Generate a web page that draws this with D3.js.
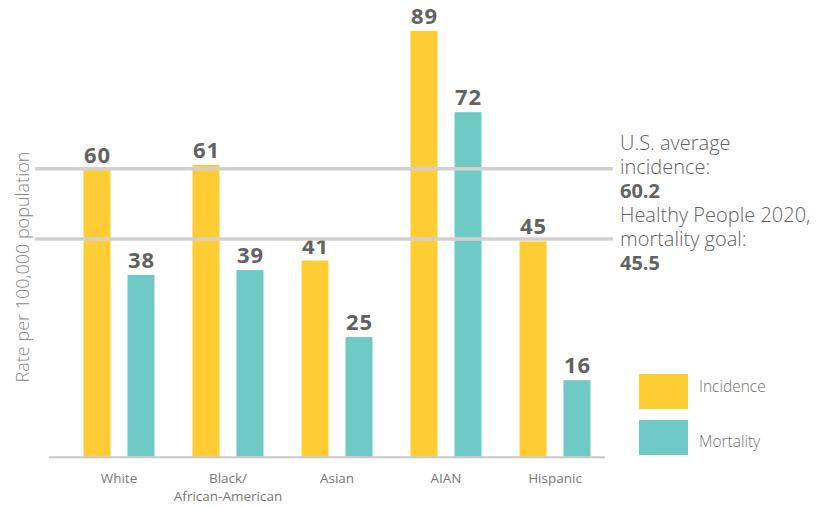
<!DOCTYPE html>
<html>
<head>
<meta charset="utf-8">
<script src="https://cdn.jsdelivr.net/npm/d3@7"></script>
<style>
  html, body { margin: 0; padding: 0; background: #fff; }
  svg { display: block; }
</style>
</head>
<body>
<svg id="chart" width="831" height="508"></svg>
<script>
const categories = ["White", "Black/\nAfrican-American", "Asian", "AIAN", "Hispanic"];
const series = ["Incidence", "Mortality"];
const incidence = [60, 61, 41, 89, 45];
const mortality = [38, 39, 25, 72, 16];
const refValues = [60.2, 45.5];
const refLabels = [["U.S. average", "incidence:", "60.2"], ["Healthy People 2020,", "mortality goal:", "45.5"]];
const colors = ["#FFCD33", "#6FC9C5"];
const yTitle = "Rate per 100,000 population";

const svg = d3.select("#chart");
const font = "'Open Sans', sans-serif";

const x = d3.scaleBand().domain(d3.range(categories.length)).range([64.5, 609.5])
  .paddingInner(0.3486).paddingOuter(0.1743);
const xs = d3.scaleBand().domain(series).range([0, x.bandwidth()]).paddingInner(0.386);
const y = d3.scaleLinear().domain([0, 95.45]).range([456.7, 0]);

const data = categories.map((c, i) => ({ i, values: [incidence[i], mortality[i]] }));

// bars
const g = svg.selectAll("g.grp").data(data).enter().append("g")
  .attr("transform", d => `translate(${x(d.i)},0)`);
g.selectAll("rect").data(d => d.values.map((v, k) => ({ v, k }))).enter().append("rect")
  .attr("x", d => xs(series[d.k])).attr("width", xs.bandwidth())
  .attr("y", d => y(d.v)).attr("height", d => y(0) - y(d.v))
  .attr("fill", d => colors[d.k]);

// reference lines (drawn over bars)
svg.selectAll("line.ref").data(refValues).enter().append("line")
  .attr("x1", 35).attr("x2", 613)
  .attr("y1", d => y(d)).attr("y2", d => y(d))
  .attr("stroke", "#d3cfcf").attr("stroke-width", 3.5);

// value labels
g.selectAll("text.val").data(d => d.values.map((v, k) => ({ v, k }))).enter().append("text")
  .attr("x", d => xs(series[d.k]) + xs.bandwidth() / 2 + 0.5)
  .attr("y", d => y(d.v) - 7)
  .attr("text-anchor", "middle")
  .attr("font-family", font).attr("font-weight", 700).attr("font-size", 22)
  .attr("letter-spacing", 1)
  .attr("fill", "#626262")
  .text(d => d.v);

// baseline
svg.append("line").attr("x1", 49).attr("x2", 605)
  .attr("y1", y(0) + 0.5).attr("y2", y(0) + 0.5)
  .attr("stroke", "#c8c8c8").attr("stroke-width", 2);

// category labels
categories.forEach((c, i) => {
  const t = svg.append("text")
    .attr("x", x(i) + x.bandwidth() / 2).attr("y", 483)
    .attr("text-anchor", "middle")
    .attr("font-family", font).attr("font-size", 13.5).attr("fill", "#777");
  c.split("\n").forEach((line, j) => {
    t.append("tspan").attr("x", x(i) + x.bandwidth() / 2).attr("dy", j === 0 ? 0 : 17.5).text(line);
  });
});

// y title
svg.append("text")
  .attr("transform", "translate(28.5,267) rotate(-90)")
  .attr("text-anchor", "middle")
  .attr("font-family", font).attr("font-weight", 300).attr("font-size", 18).attr("fill", "#888")
  .text(yTitle);

// annotations
refLabels.forEach((lines, i) => {
  lines.forEach((line, j) => {
    svg.append("text")
      .attr("x", 620).attr("y", 150 + i * 72 + j * 24)
      .attr("font-family", font)
      .attr("font-weight", j === 2 ? 700 : 300)
      .attr("font-size", 20).attr("fill", "#626262")
      .text(line);
  });
});

// legend
series.forEach((s, k) => {
  svg.append("rect").attr("x", 639).attr("y", 374 + k * 46)
    .attr("width", 49).attr("height", 35).attr("fill", colors[k]);
  svg.append("text").attr("x", 699).attr("y", 392 + k * 54.5)
    .attr("font-family", font).attr("font-weight", 300).attr("font-size", 15.5).attr("fill", "#707070")
    .text(s);
});
</script>
</body>
</html>
